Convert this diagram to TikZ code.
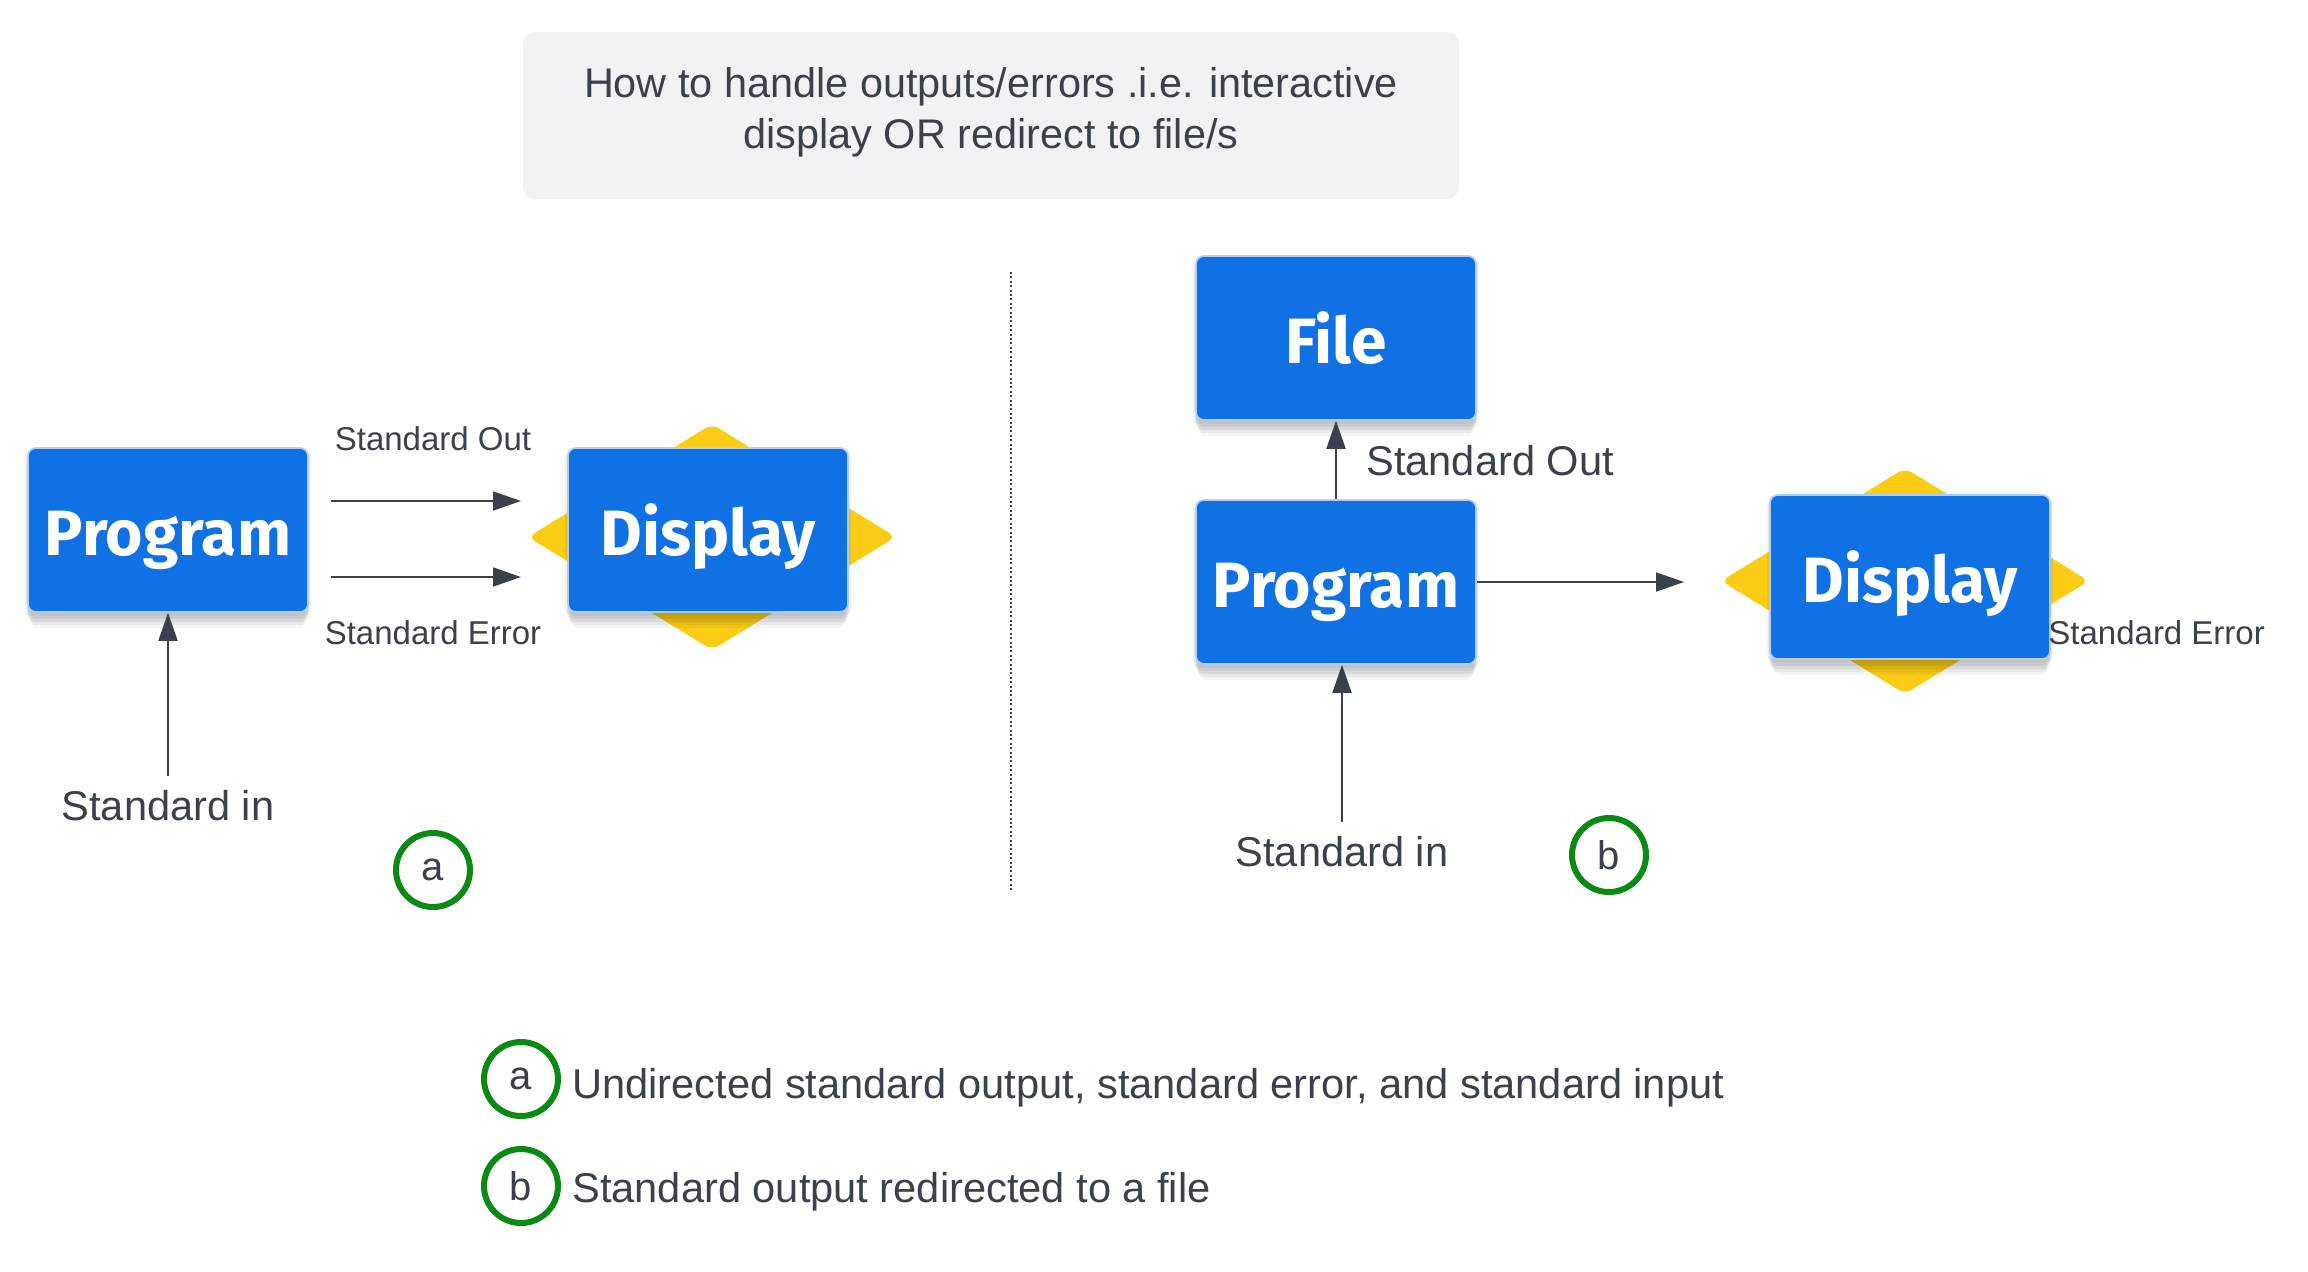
\documentclass[tikz,border=0pt]{standalone}
\usepackage{fontspec}
\setmainfont{Liberation Sans}
\newfontfamily\boxfont{Fira Sans}
\usetikzlibrary{arrows.meta,shadows,shapes.geometric}
\definecolor{lblue}{RGB}{16,113,229}
\definecolor{lborder}{RGB}{175,205,245}
\definecolor{lyellow}{RGB}{250,204,21}
\definecolor{txt}{RGB}{58,65,74}
\definecolor{tgray}{RGB}{241,242,244}
\definecolor{cgreen}{RGB}{10,138,20}
\tikzset{
  bbox/.style={rectangle, minimum width=140pt, minimum height=82pt, inner sep=0pt,
    fill=lblue, draw=lborder, line width=0.8pt, rounded corners=4pt, text=white,
    text height=25.5pt, text depth=0pt,
    font=\boxfont\bfseries\fontsize{32}{32}\selectfont,
    drop shadow={shadow xshift=0pt, shadow yshift=-1pt, shadow scale=1.02, opacity=0.05, fill=black},
    drop shadow={shadow xshift=0pt, shadow yshift=-3pt, shadow scale=1.01, opacity=0.06, fill=black},
    drop shadow={shadow xshift=0pt, shadow yshift=-5pt, shadow scale=1.0, opacity=0.06, fill=black},
    drop shadow={shadow xshift=0pt, shadow yshift=-7pt, shadow scale=0.99, opacity=0.05, fill=black},
    drop shadow={shadow xshift=0pt, shadow yshift=-9pt, shadow scale=0.98, opacity=0.04, fill=black}},
  ydia/.style={diamond, minimum width=184pt, minimum height=113pt, inner sep=0pt,
    fill=lyellow, rounded corners=4pt},
  arr/.style={draw=txt, line width=0.9pt, -{Triangle[length=14pt, width=9.5pt]}},
  slab/.style={text=txt, inner sep=1pt, font=\fontsize{16.5}{19}\selectfont},
  blab/.style={text=txt, inner sep=1pt, font=\fontsize{20.8}{24}\selectfont},
  gcirc/.style={circle, draw=cgreen, line width=3pt, minimum size=37pt, inner sep=0pt,
    text=txt, font=\fontsize{20}{22}\selectfont},
  titlebox/.style={rectangle, fill=tgray, rounded corners=6pt, minimum width=468pt,
    minimum height=83.5pt, align=center, text=txt, font=\fontsize{20.7}{25}\selectfont},
  sepline/.style={draw=txt, line width=0.8pt, dash pattern=on 1pt off 1.2pt}
}
\begin{document}
\begin{tikzpicture}[x=0.5pt,y=-0.5pt]
\useasboundingbox[fill=white] (0,0) rectangle (2308,1271);

% title
\node[titlebox] (title) at (991,115.5) {\raisebox{1.5pt}[\height][\depth]{\begin{tabular}{@{}c@{}}How to handle outputs/errors .i.e. interactive\\[0.5pt]display OR redirect to file/s\end{tabular}}};

% separator
\coordinate (sepT) at (1011,272);
\coordinate (sepB) at (1011,891);
\draw[sepline] (sepT) -- (sepB);

% ---- left (a)
\node[bbox] (pL) at (168,530) {Program};
\node[ydia] (dLbg) at (712,537) {};
\node[bbox] (dL) at (708,530) {Display};

\coordinate (soLs) at (331,501);
\coordinate (soLe) at (521,501);
\coordinate (seLs) at (331,577);
\coordinate (seLe) at (521,577);
\draw[arr] (soLs) -- (soLe);
\draw[arr] (seLs) -- (seLe);
\node[slab] (soL) at (433,439) {Standard Out};
\node[slab] (seL) at (433,633) {Standard Error};

\node[blab] (sinL) at (168,806) {Standard in};
\draw[arr, shorten <=6pt] (sinL.north) -- (sinL.north |- pL.south);

\node[gcirc] (ca) at (433,870) {a};

% ---- right (b)
\node[bbox] (fR) at (1336,338) {File};
\node[bbox] (pR) at (1336,582) {Program};
\node[ydia] (dRbg) at (1905,581) {};
\node[bbox] (dR) at (1910,577) {Display};

\draw[arr] (pR.north) -- (fR.south);
\node[blab, anchor=west] (soR) at (1364,461) {Standard Out};

\coordinate (oRe) at (1684,582);
\draw[arr] (pR.east) -- (oRe);
\node[slab, anchor=west] (seR) at (2046,633) {Standard Error};

\node[blab] (sinR) at (1342,852) {Standard in};
\draw[arr, shorten <=6pt] (sinR.north) -- (sinR.north |- pR.south);

\node[gcirc] (cb) at (1609,855) {b};

% ---- legend
\node[gcirc] (la) at (521,1079) {a};
\node[blab, anchor=west] (lta) at (570,1088) {Undirected standard output, standard error, and standard input};
\node[gcirc] (lb) at (521,1186) {b};
\node[blab, anchor=west] (ltb) at (570,1192) {Standard output redirected to a file};
\end{tikzpicture}
\end{document}
